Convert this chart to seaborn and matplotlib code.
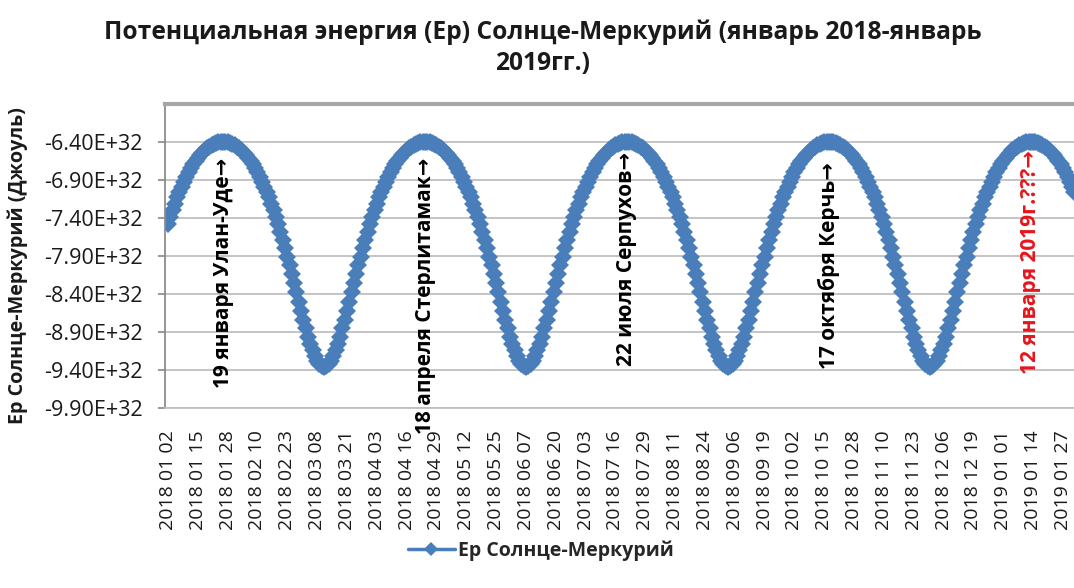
import pandas as pd
import matplotlib.pyplot as plt
import seaborn as sns

# Ep Sun-Mercury, daily from 2018-01-02, in units of 1E+32 J
start_date = '2018-01-02'
ep_values = [
    -7.48, -7.39, -7.30, -7.21, -7.13, -7.06, -6.99, -6.92, -6.86, -6.80,
    -6.74, -6.69, -6.65, -6.61, -6.57, -6.54, -6.51, -6.48, -6.46, -6.44,
    -6.42, -6.41, -6.40, -6.40, -6.40,
    -6.40, -6.40, -6.41, -6.42, -6.44, -6.46, -6.48, -6.51, -6.54, -6.57,
    -6.61, -6.65, -6.69, -6.74, -6.80, -6.86, -6.92, -6.99, -7.06, -7.13,
    -7.21, -7.30, -7.39, -7.48, -7.58, -7.69, -7.80, -7.91, -8.02, -8.14,
    -8.26, -8.38, -8.50, -8.62, -8.74, -8.85, -8.96, -9.06, -9.14, -9.22,
    -9.28, -9.32, -9.35,
    -9.36, -9.35, -9.32, -9.28, -9.22, -9.14, -9.06, -8.96, -8.85, -8.74,
    -8.62, -8.50, -8.38, -8.26, -8.14, -8.02, -7.91, -7.80, -7.69, -7.58,
    -7.48, -7.39, -7.30, -7.21, -7.13, -7.06, -6.99, -6.92, -6.86, -6.80,
    -6.74, -6.69, -6.65, -6.61, -6.57, -6.54, -6.51, -6.48, -6.46, -6.44,
    -6.42, -6.41, -6.40, -6.40, -6.40,
    -6.40, -6.40, -6.41, -6.42, -6.44, -6.46, -6.48, -6.51, -6.54, -6.57,
    -6.61, -6.65, -6.69, -6.74, -6.80, -6.86, -6.92, -6.99, -7.06, -7.13,
    -7.21, -7.30, -7.39, -7.48, -7.58, -7.69, -7.80, -7.91, -8.02, -8.14,
    -8.26, -8.38, -8.50, -8.62, -8.74, -8.85, -8.96, -9.06, -9.14, -9.22,
    -9.28, -9.32, -9.35,
    -9.36, -9.35, -9.32, -9.28, -9.22, -9.14, -9.06, -8.96, -8.85, -8.74,
    -8.62, -8.50, -8.38, -8.26, -8.14, -8.02, -7.91, -7.80, -7.69, -7.58,
    -7.48, -7.39, -7.30, -7.21, -7.13, -7.06, -6.99, -6.92, -6.86, -6.80,
    -6.74, -6.69, -6.65, -6.61, -6.57, -6.54, -6.51, -6.48, -6.46, -6.44,
    -6.42, -6.41, -6.40, -6.40, -6.40,
    -6.40, -6.40, -6.41, -6.42, -6.44, -6.46, -6.48, -6.51, -6.54, -6.57,
    -6.61, -6.65, -6.69, -6.74, -6.80, -6.86, -6.92, -6.99, -7.06, -7.13,
    -7.21, -7.30, -7.39, -7.48, -7.58, -7.69, -7.80, -7.91, -8.02, -8.14,
    -8.26, -8.38, -8.50, -8.62, -8.74, -8.85, -8.96, -9.06, -9.14, -9.22,
    -9.28, -9.32, -9.35,
    -9.36, -9.35, -9.32, -9.28, -9.22, -9.14, -9.06, -8.96, -8.85, -8.74,
    -8.62, -8.50, -8.38, -8.26, -8.14, -8.02, -7.91, -7.80, -7.69, -7.58,
    -7.48, -7.39, -7.30, -7.21, -7.13, -7.06, -6.99, -6.92, -6.86, -6.80,
    -6.74, -6.69, -6.65, -6.61, -6.57, -6.54, -6.51, -6.48, -6.46, -6.44,
    -6.42, -6.41, -6.40, -6.40, -6.40,
    -6.40, -6.40, -6.41, -6.42, -6.44, -6.46, -6.48, -6.51, -6.54, -6.57,
    -6.61, -6.65, -6.69, -6.74, -6.80, -6.86, -6.92, -6.99, -7.06, -7.13,
    -7.21, -7.30, -7.39, -7.48, -7.58, -7.69, -7.80, -7.91, -8.02, -8.14,
    -8.26, -8.38, -8.50, -8.62, -8.74, -8.85, -8.96, -9.06, -9.14, -9.22,
    -9.28, -9.32, -9.35,
    -9.36, -9.35, -9.32, -9.28, -9.22, -9.14, -9.06, -8.96, -8.85, -8.74,
    -8.62, -8.50, -8.38, -8.26, -8.14, -8.02, -7.91, -7.80, -7.69, -7.58,
    -7.48, -7.39, -7.30, -7.21, -7.13, -7.06, -6.99, -6.92, -6.86, -6.80,
    -6.74, -6.69, -6.65, -6.61, -6.57, -6.54, -6.51, -6.48, -6.46, -6.44,
    -6.42, -6.41, -6.40, -6.40, -6.40,
    -6.40, -6.40, -6.41, -6.42, -6.44, -6.46, -6.48, -6.51, -6.54, -6.57,
    -6.61, -6.65, -6.69, -6.74, -6.80, -6.86, -6.92, -6.99, -7.06,
]
y_ticks = [-9.9, -9.4, -8.9, -8.4, -7.9, -7.4, -6.9, -6.4]

annot_texts = ['19 января Улан-Уде→', '18 апреля Стерлитамак→', '22 июля Серпухов→',
               '17 октября Керчь→', '12 января 2019г.???→']
annot_dates = ['2018-01-26', '2018-04-24', '2018-07-21', '2018-10-17', '2019-01-13']
annot_top = [-6.61, -6.61, -6.53, -6.66, -6.505]
annot_colors = ['black', 'black', 'black', 'black', '#E8141B']

series_name = 'Ep Солнце-Меркурий'
blue = '#4A7EBB'

sns.set_theme(style='white')
plt.rcParams['font.family'] = ['Open Sans', 'DejaVu Sans']

dates = pd.date_range(start_date, periods=len(ep_values), freq='D')
df = pd.DataFrame({'date': dates, 'ep': ep_values})

W, H = 1074, 588
fig = plt.figure(figsize=(W / 100, H / 100), dpi=100)
ax = fig.add_axes([165 / W, 1 - 408 / H, 1 - 165 / W, 304 / H])

sns.lineplot(data=df, x='date', y='ep', ax=ax, color=blue, linewidth=3.5,
             marker='D', markersize=9.5, markeredgewidth=0, label=series_name)
ax.get_legend().remove()

ax.set_xlim(dates[0] - pd.Timedelta(days=1.3), dates[0] + pd.Timedelta(days=394.8))
ax.set_ylim(-9.9, -5.9)
ax.set_yticks(y_ticks)
ax.set_yticklabels([f'{v:.2f}E+32' for v in y_ticks])
ax.set_xticks(dates[::13])
ax.set_xticklabels([d.strftime('%Y %m %d') for d in dates[::13]], rotation=90)
ax.set_xlabel('')
ax.set_ylabel('')

ax.yaxis.grid(True, color='#BFBFBF', linewidth=1.3)
ax.xaxis.grid(False)
ax.set_axisbelow(True)
ax.spines['top'].set_color('#A6A6A6')
ax.spines['top'].set_linewidth(3)
ax.spines['left'].set_color('#8C8C8C')
ax.spines['left'].set_linewidth(1.3)
ax.spines['bottom'].set_color('#BFBFBF')
ax.spines['bottom'].set_linewidth(1.3)
ax.spines['right'].set_visible(False)
ax.tick_params(axis='y', length=5, color='#8C8C8C', direction='out', pad=11,
               labelsize=15.5, labelcolor='#1a1a1a', left=True)
ax.tick_params(axis='x', length=0, pad=16, labelsize=14, labelcolor='#1a1a1a')

for txt, d, y, c in zip(annot_texts, annot_dates, annot_top, annot_colors):
    ax.text(pd.Timestamp(d), y, txt, rotation=90, ha='center', va='top',
            fontsize=15, fontweight='bold', color=c)

fig.text(543 / W, 1 - 48 / H,
         'Потенциальная энергия (Ep) Солнце-Меркурий (январь 2018-январь\n2019гг.)',
         ha='center', va='center', fontsize=17.7, fontweight='bold',
         linespacing=1.3, color='#1a1a1a')
fig.text(18 / W, 1 - 266 / H, 'Ep Солнце-Меркурий (Джоуль)', rotation=90,
         ha='center', va='center', fontsize=14.2, fontweight='bold', color='#1a1a1a')

handles, labels = ax.get_legend_handles_labels()
leg = fig.legend(handles, labels, loc='center', bbox_to_anchor=(541 / W, 1 - 551 / H),
                 frameon=False, handlelength=2.4, handletextpad=0.2, markerscale=0.7,
                 prop={'weight': 'bold', 'size': 14})
for line in leg.get_lines():
    line.set_linewidth(2.5)

fig.savefig('out.png', dpi=100)
